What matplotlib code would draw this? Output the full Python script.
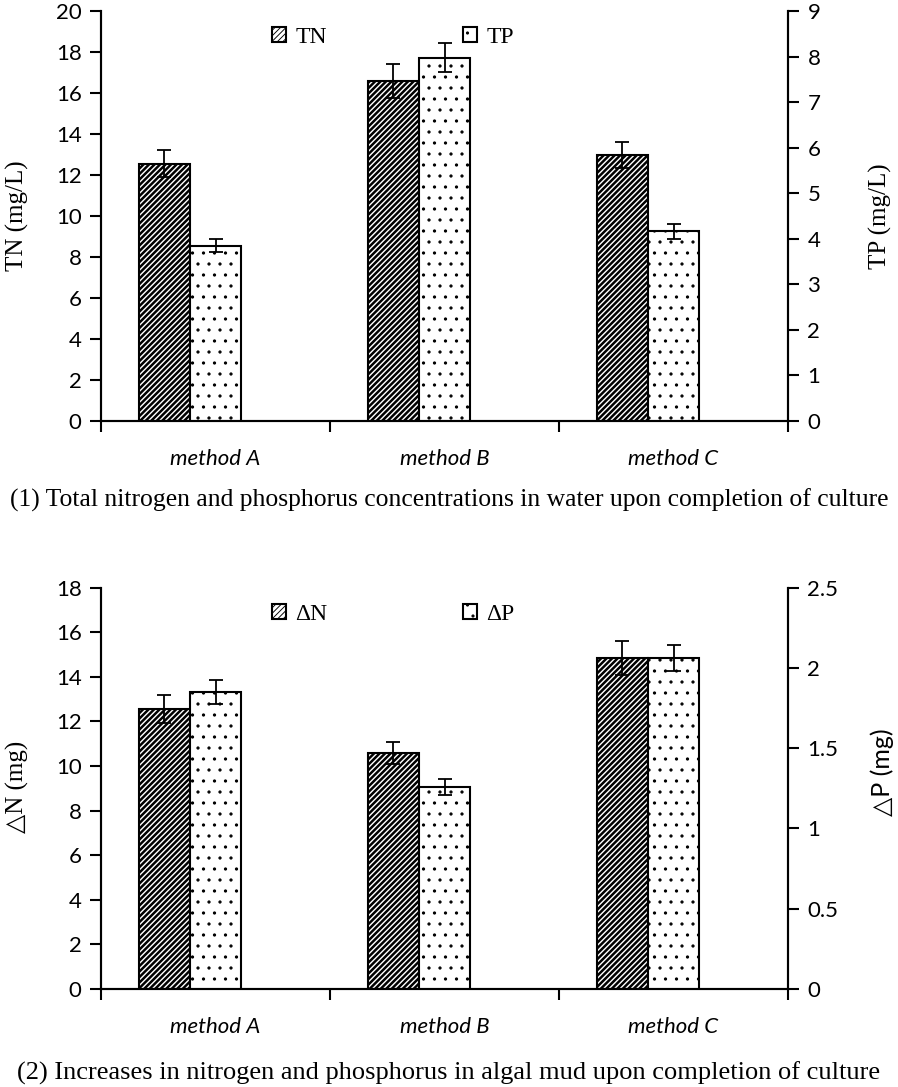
import matplotlib
matplotlib.use("Agg")
import matplotlib.pyplot as plt
import numpy as np

categories = ["method A", "method B", "method C"]
tn = [12.55, 16.58, 12.96]
tn_err = [0.65, 0.82, 0.64]
tp = [3.85, 7.97, 4.16]
tp_err = [0.15, 0.32, 0.17]
dn = [12.56, 10.58, 14.84]
dn_err = [0.61, 0.50, 0.75]
dp = [1.85, 1.258, 2.062]
dp_err = [0.077, 0.052, 0.08]

SANS = ['Lato', 'DejaVu Sans']
SERIF = ['Liberation Serif', 'DejaVu Serif']

DPI = 66
K = 100.0 / DPI   # keeps point sizes as they would look at 100 dpi

fig = plt.figure(figsize=(898 / DPI, 1087 / DPI), dpi=DPI)

def set_hlw(patches, lw):
    for p in patches:
        if hasattr(p, 'set_hatch_linewidth'):
            p.set_hatch_linewidth(lw)

def panel(rect, left_vals, left_err, right_vals, right_err, lmax, lstep, rmax, rstep,
          llabel, rlabel, rlabel_family, leg1, leg2, caption, caption_y, caption_size,
          llab_pos, rlab_pos, leg_y):
    ax = fig.add_axes(rect)
    ax2 = ax.twinx()
    x = np.arange(len(categories))
    w = 0.223
    hl1 = 2.7
    with plt.rc_context({'hatch.linewidth': hl1}):
        b1 = ax.bar(x - w, left_vals, width=w, color='white', edgecolor='black', hatch='////',
                    linewidth=1.5 * K, label=leg1, zorder=2)
    set_hlw(b1, hl1)
    ax.errorbar(x - w, left_vals, yerr=left_err, fmt='none', ecolor='black',
                elinewidth=1.3 * K, capsize=4.7 * K, capthick=1.3 * K, zorder=3)
    hl2 = 1.1
    with plt.rc_context({'hatch.linewidth': hl2}):
        b2 = ax2.bar(x, right_vals, width=w, color='white', edgecolor='black', hatch='.',
                     linewidth=1.5 * K, label=leg2, zorder=2)
    set_hlw(b2, hl2)
    ax2.errorbar(x, right_vals, yerr=right_err, fmt='none', ecolor='black',
                 elinewidth=1.3 * K, capsize=4.7 * K, capthick=1.3 * K, zorder=3)
    ax.set_xlim(-0.5, 2.5)
    ax.set_ylim(0, lmax)
    ax2.set_ylim(0, rmax)
    ax.set_yticks(np.arange(0, lmax + 1e-9, lstep))
    rt = np.arange(0, rmax + 1e-9, rstep)
    ax2.set_yticks(rt)
    ax2.set_yticklabels([f"{v:g}" for v in rt])
    ax.set_xticks([-0.5, 0.5, 1.5, 2.5])
    ax.set_xticklabels([])
    ax.set_xticks(x, minor=True)
    ax.set_xticklabels(categories, minor=True, fontstyle='italic', fontsize=16 * K, family=SANS)
    ax.tick_params(axis='x', which='minor', length=0, pad=20 * K)
    ax.tick_params(axis='x', which='major', length=8 * K, width=1.5 * K, direction='out')
    for a in (ax, ax2):
        a.spines['top'].set_visible(False)
        for s in ('left', 'right', 'bottom'):
            a.spines[s].set_linewidth(1.5 * K)
        a.tick_params(axis='y', length=8 * K, width=1.5 * K, direction='out',
                      labelsize=16 * K, pad=6 * K)
        for lab in a.get_yticklabels():
            lab.set_family(SANS)
    ax.set_ylabel(llabel, family=SERIF, fontsize=18 * K)
    ax.yaxis.set_label_coords(*llab_pos)
    ax2.set_ylabel(rlabel, family=rlabel_family, fontsize=18 * K, rotation=90)
    ax2.yaxis.set_label_coords(*rlab_pos)
    ax2.yaxis.label.set_va('center')
    ax.yaxis.label.set_va('center')
    h1, l1 = ax.get_legend_handles_labels()
    h2, l2 = ax2.get_legend_handles_labels()
    for h, l, xx in ((h1, l1, 272 / 898), (h2, l2, 463 / 898)):
        fig.legend(h, l, loc='upper left', bbox_to_anchor=(xx, leg_y),
                   frameon=False, prop={'family': SERIF, 'size': 17 * K}, handlelength=0.6,
                   handleheight=0.6, handletextpad=0.4, borderpad=0, borderaxespad=0)
    fig.text(0.5, caption_y, caption, ha='center', va='center', family=SERIF,
             fontsize=caption_size * K)
    return ax, ax2

panel([0.1125, 0.6127, 0.765, 0.3772], tn, tn_err, tp, tp_err, 20, 2, 9, 1,
      "TN (mg/L)", "TP (mg/L)", SERIF, "TN", "TP",
      "(1) Total nitrogen and phosphorus concentrations in water upon completion of culture",
      0.5395, 18.5, (-0.122, 0.5), (1.134, 0.5), 1 - 27 / 1087)
panel([0.1125, 0.0902, 0.765, 0.3691], dn, dn_err, dp, dp_err, 18, 2, 2.5, 0.5,
      "\u25b3N (mg)", "\u25b3P (mg)", SANS, "\u0394N", "\u0394P",
      "(2) Increases in nitrogen and phosphorus in algal mud upon completion of culture",
      0.0124, 19.0, (-0.122, 0.504), (1.137, 0.54), 1 - 604 / 1087)

fig.savefig("out.png", dpi=DPI)
